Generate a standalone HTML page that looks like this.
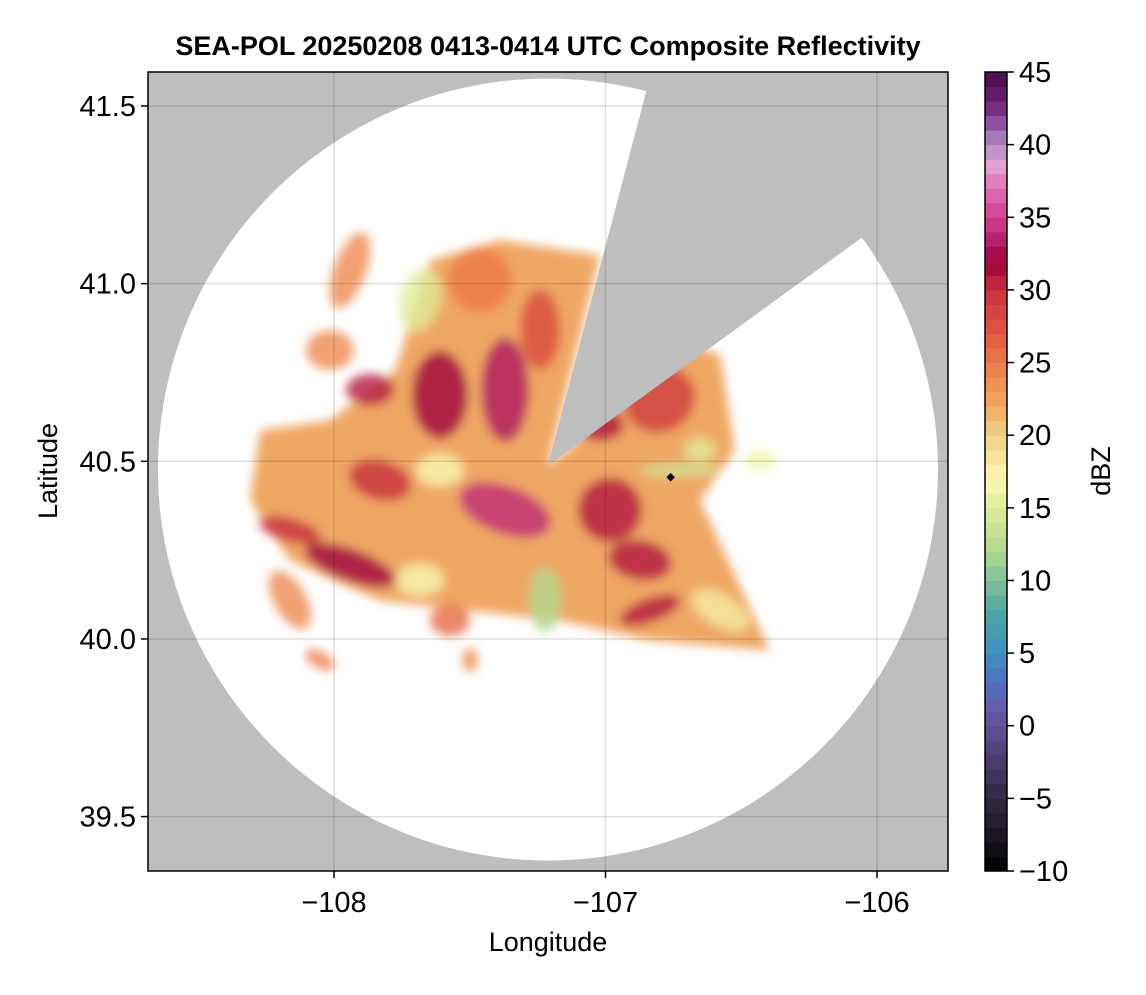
<!DOCTYPE html>
<html><head><meta charset="utf-8"><style>
body{margin:0;background:#fff;}
svg text{font-family:"Liberation Sans",sans-serif;}
</style></head><body>
<svg id="chart" width="1146" height="990" xmlns="http://www.w3.org/2000/svg">
<defs>
<clipPath id="plotclip"><rect x="148" y="72" width="800" height="799"/></clipPath>
<filter id="soft" x="-20%" y="-20%" width="140%" height="140%"><feGaussianBlur stdDeviation="5"/></filter>
</defs>
<g id="plot" clip-path="url(#plotclip)"></g>
<g id="axes"></g>
<g id="cbar"></g>
<text x="548" y="55" text-anchor="middle" font-size="27" font-weight="bold">SEA-POL 20250208 0413-0414 UTC Composite Reflectivity</text>
<text x="548" y="951" text-anchor="middle" font-size="27">Longitude</text>
<text transform="translate(57,471) rotate(-90)" text-anchor="middle" font-size="27">Latitude</text>
<text transform="translate(1110,471) rotate(-90)" text-anchor="middle" font-size="27">dBZ</text>
</svg>
<script>
const xTicks=[-108,-107,-106];
const yTicks=[39.5,40.0,40.5,41.0,41.5];
const cbTicks=[-10,-5,0,5,10,15,20,25,30,35,40,45];
const radarCenter=[-107.212,40.488];
const wedgeEdges=[[-106.855,41.527],[-106.064,41.125]];
const echoMain=[[-107.775,40.756],[-107.646,41.066],[-107.389,41.123],[-107.020,41.080],[-107.212,40.486],[-106.700,40.830],[-106.578,40.800],[-106.523,40.531],[-106.652,40.390],[-106.394,39.968],[-106.836,39.996],[-107.168,40.052],[-107.499,40.080],[-107.831,40.108],[-108.162,40.221],[-108.309,40.390],[-108.273,40.587],[-108.015,40.615]];
// echo cells: lon, lat, rx(deg lon), ry(deg lat), rotation, dBZ
const cellLon=[-107.867,-107.610,-107.370,-107.241,-107.462,-107.683,-108.015,-107.941,-107.370,-107.831,-107.941,-108.162,-106.983,-106.873,-106.836,-106.799,-107.020,-107.610,-107.223,-106.726,-106.652,-108.162,-108.052,-107.683,-106.578,-106.431,-107.573,-107.499];
const cellLat=[40.701,40.687,40.701,40.870,41.010,40.954,40.813,41.038,40.363,40.447,40.208,40.307,40.363,40.222,40.081,40.673,40.602,40.475,40.110,40.475,40.532,40.110,39.941,40.166,40.081,40.504,40.053,39.941];
const cellRx=[0.110,0.129,0.110,0.092,0.147,0.092,0.110,0.074,0.221,0.147,0.221,0.147,0.147,0.147,0.147,0.166,0.110,0.110,0.074,0.184,0.074,0.074,0.074,0.110,0.147,0.074,0.092,0.037];
const cellRy=[0.056,0.155,0.183,0.141,0.113,0.113,0.070,0.141,0.084,0.070,0.056,0.042,0.113,0.070,0.042,0.113,0.056,0.056,0.113,0.023,0.042,0.113,0.028,0.056,0.056,0.034,0.056,0.042];
const cellRot=[0,0,0,0,0,15,0,20,20,15,20,15,0,10,-20,-30,0,0,0,0,0,-30,30,0,30,0,0,0];
const cellDbz=[31,32,33,28,25,15,24,24,34,30,32,30,31,31,31,29,31,17,12,14,15,24,25,17,18,16,26,24];
const cbColors=[[-10,'#000000'],[-7,'#201a28'],[-4,'#3a3050'],[-1,'#584888'],[1,'#6858a8'],[3,'#5070c0'],[5,'#4090c0'],[8,'#50a8a0'],[10,'#80c098'],[12,'#b0d890'],[15,'#e0ec98'],[17,'#fafab0'],[20,'#f0d088'],[22,'#eeaa60'],[25,'#ee7a48'],[27,'#e05840'],[30,'#c83040'],[32,'#a00040'],[33,'#b01860'],[35,'#d04090'],[37,'#e070b0'],[38.5,'#e0a0d0'],[40,'#b090c0'],[41.5,'#9050a0'],[43,'#6a2070'],[45,'#4a0a4a']];
const NS='http://www.w3.org/2000/svg';
const X=lon=>334+(lon+108)*271.5;
const Y=lat=>106+(41.5-lat)*355.3;
const CY=v=>871-(v+10)/55*799;
function hex(h){return [1,3,5].map(i=>parseInt(h.substr(i,2),16));}
function color(v){for(let i=0;i<cbColors.length-1;i++){const a=cbColors[i],b=cbColors[i+1];if(v<=b[0]){const t=Math.max(0,(v-a[0])/(b[0]-a[0]));const A=hex(a[1]),B=hex(b[1]);return 'rgb('+A.map((c,k)=>Math.round(c+(B[k]-c)*t)).join(',')+')';}}return cbColors[cbColors.length-1][1];}
function mk(tag,attrs,parent){const e=document.createElementNS(NS,tag);for(const k in attrs)e.setAttribute(k,attrs[k]);parent.appendChild(e);return e;}
const plot=document.getElementById('plot'),axes=document.getElementById('axes'),cbar=document.getElementById('cbar');
let bg=mk('rect',{x:148,y:72,width:800,height:799,fill:'#bebebe'},plot);


let cx=X(radarCenter[0]),cy=Y(radarCenter[1]);
let circ=mk('ellipse',{cx:cx,cy:cy+4,rx:390,ry:391,fill:'#fff'},plot);


const e0=[X(wedgeEdges[0][0]),Y(wedgeEdges[0][1])],e1=[X(wedgeEdges[1][0]),Y(wedgeEdges[1][1])];
const far=p=>[cx+(p[0]-cx)*3,cy+(p[1]-cy)*3];
const eg=mk('g',{filter:'url(#soft)'},plot);
let m=mk('polygon',{points:echoMain.map(p=>X(p[0])+','+Y(p[1])).join(' '),fill:color(22.5),opacity:0.95},eg);


cellLon.forEach((lon,i)=>{
 const e=mk('ellipse',{cx:X(lon),cy:Y(cellLat[i]),rx:cellRx[i]*271.5*0.8,ry:cellRy[i]*355.3*0.8,fill:color(cellDbz[i]),opacity:0.8,transform:'rotate('+cellRot[i]+' '+X(lon)+' '+Y(cellLat[i])+')'},eg);
 
 
});
let w2=mk('polygon',{points:[[cx,cy],e0,far(e0),far(e1),e1].map(p=>p.join(',')).join(' '),fill:'#bebebe'},plot);


let mark=mk('rect',{x:X(-106.76)-3,y:Y(40.455)-3,width:6,height:6,fill:'#000',transform:'rotate(45 '+X(-106.76)+' '+Y(40.455)+')'},plot);


xTicks.forEach(t=>{
 const g=mk('line',{x1:X(t),x2:X(t),y1:72,y2:871,stroke:'#000','stroke-opacity':0.12,'stroke-width':1.5},plot);
 
 
 mk('line',{x1:X(t),x2:X(t),y1:871,y2:878,stroke:'#000','stroke-width':1.5},axes);
 const l=mk('text',{x:X(t),y:912,'text-anchor':'middle','font-size':29},axes);l.textContent='\u2212'+Math.abs(t);
 
 
});
yTicks.forEach(t=>{
 const g=mk('line',{x1:148,x2:948,y1:Y(t),y2:Y(t),stroke:'#000','stroke-opacity':0.12,'stroke-width':1.5},plot);
 
 
 mk('line',{x1:141,x2:148,y1:Y(t),y2:Y(t),stroke:'#000','stroke-width':1.5},axes);
 const l=mk('text',{x:136,y:Y(t)+10,'text-anchor':'end','font-size':29},axes);l.textContent=t.toFixed(1);
 
 
});
let fr=mk('rect',{x:148,y:72,width:800,height:799,fill:'none',stroke:'#000','stroke-width':1.5},axes);


for(let v=-10;v<45;v++){
 const r=mk('rect',{x:985,y:CY(v+1),width:22,height:CY(v)-CY(v+1)+0.5,fill:color(v+0.5)},cbar);
 
 
}
mk('rect',{x:985,y:72,width:22,height:799,fill:'none',stroke:'#000','stroke-width':1.5},cbar);
cbTicks.forEach(t=>{
 mk('line',{x1:1007,x2:1014,y1:CY(t),y2:CY(t),stroke:'#000','stroke-width':1.5},cbar);
 const l=mk('text',{x:1019,y:CY(t)+10,'font-size':29},cbar);l.textContent=(t<0?'\u2212'+Math.abs(t):t);
 
 
});
</script>
</body></html>
